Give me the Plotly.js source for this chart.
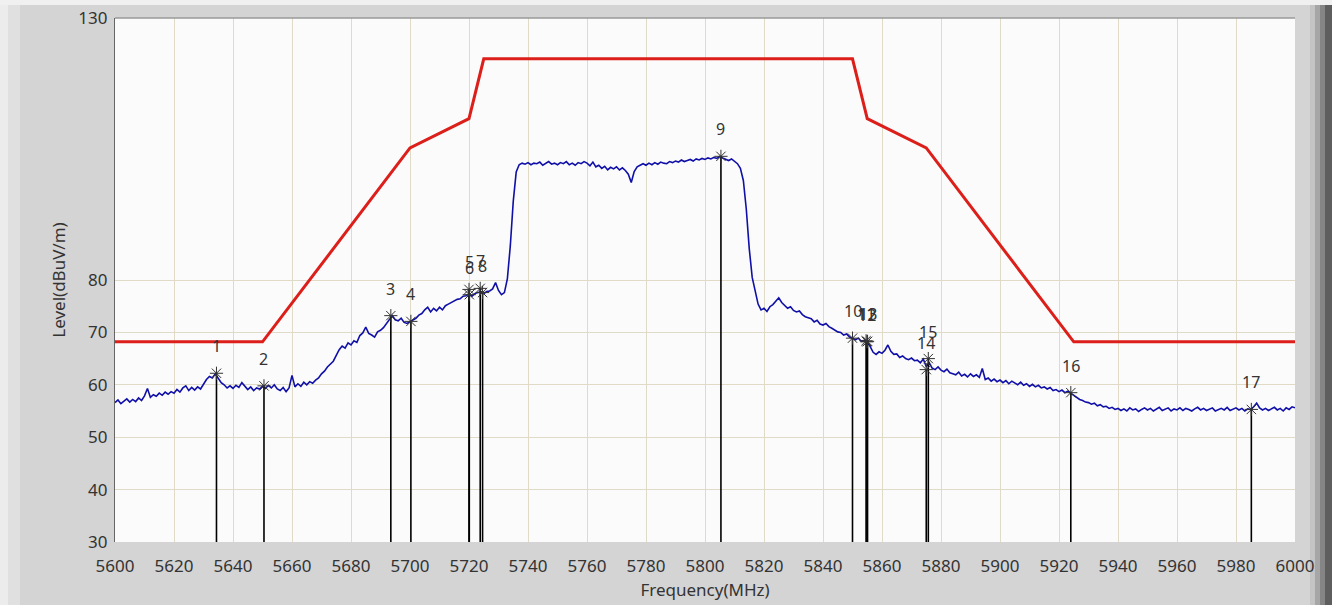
<!DOCTYPE html>
<html>
<head>
<meta charset="utf-8">
<script src="https://cdn.plot.ly/plotly-3.0.1.min.js"></script>
<style>
  html, body { margin: 0; padding: 0; background: #d4d4d4; }
  #chart { width: 1332px; height: 605px; }
</style>
</head>
<body>
<div id="chart"></div>
<script>
// Spectrum: start frequency and 1 MHz step, levels in dBuV/m
const spectrumStart = 5600;
const spectrumStep = 1;
const spectrumLevel = [
  56.6, 57.1, 56.4, 56.9, 57.3, 56.7, 57.2, 56.8, 57.5, 57.0,
  57.9, 59.3, 57.6, 58.1, 57.8, 58.4, 58.0, 58.6, 58.2, 58.7,
  58.4, 59.1, 58.6, 59.4, 59.8, 58.9, 59.5, 59.0, 59.6, 59.2,
  60.1, 61.0, 61.6, 61.3, 62.1, 61.2, 60.4, 60.0, 59.4, 59.8,
  59.3, 59.9, 59.5, 60.4, 59.7, 59.1, 59.6, 58.9, 59.4, 59.2,
  59.7, 59.3, 59.9, 59.4, 60.0, 59.2, 58.9, 59.5, 58.7, 59.4,
  61.8, 59.6, 60.2, 59.7, 60.5, 60.0, 60.6, 60.3, 60.9, 61.3,
  62.1, 62.6, 63.4, 64.0, 64.5, 65.6, 66.7, 67.4, 67.0, 68.0,
  67.6, 68.4, 68.1, 69.4, 69.9, 71.0, 69.8, 69.5, 69.1, 70.1,
  70.4, 70.9, 71.6, 72.5, 73.2, 72.4, 72.2, 72.7, 71.9, 71.7,
  72.0, 72.3, 72.7, 73.3, 73.6, 74.3, 74.8, 73.9, 74.6, 74.1,
  74.8, 74.3, 75.1, 75.4, 75.7, 75.9, 76.3, 76.4, 76.9, 77.0,
  77.3, 76.9, 77.4, 77.6, 77.7, 77.4, 77.8, 77.9, 78.3, 79.5,
  78.0, 77.2, 77.6, 80.2, 86.5, 95.0, 100.6, 102.0, 102.3, 102.1,
  102.4, 102.0, 102.3, 102.2, 102.5, 101.9, 102.3, 102.6, 102.1, 102.3,
  102.0, 102.4, 102.2, 102.6, 102.0, 102.3, 101.9, 102.4, 102.2, 102.6,
  102.3, 101.8, 102.5, 101.6, 101.9, 101.3, 101.7, 101.0, 101.5, 101.2,
  101.6, 101.0, 101.4, 100.9, 100.2, 98.6, 100.7, 101.6, 101.9, 102.2,
  101.9, 102.3, 102.0, 102.4, 102.1, 102.5, 102.3, 102.2, 102.6, 102.4,
  102.7, 102.5, 102.9, 102.6, 102.8, 103.0, 102.7, 103.1, 102.9, 103.2,
  103.0, 103.3, 103.1, 103.4, 103.2, 103.6, 103.3, 103.0, 102.8, 103.1,
  102.7, 102.2, 101.3, 99.0, 93.5, 86.0, 80.5, 77.8, 75.4, 74.3,
  74.6, 74.0, 74.9, 75.3, 76.0, 76.6, 75.7, 75.1, 74.6, 74.9,
  74.2, 73.9, 74.1, 73.4, 73.0, 72.8, 72.6, 72.0, 72.3, 71.6,
  71.4, 71.7, 71.1, 70.8, 70.4, 70.1, 70.0, 69.5, 69.7, 69.1,
  68.9, 68.6, 68.9, 68.3, 68.5, 68.2, 67.3, 66.2, 65.8, 66.3,
  66.0, 66.6, 67.6, 66.4, 65.8, 65.9, 65.2, 65.5, 65.0, 64.8,
  65.1, 64.6, 64.7, 64.2, 64.9, 63.5, 64.2, 63.2, 62.9, 63.4,
  62.8, 62.5, 63.0, 62.3, 62.1, 61.9, 62.4, 61.7, 62.0, 61.5,
  62.1, 61.6, 61.9, 61.4, 63.1, 61.0, 61.3, 60.7, 61.1, 60.6,
  60.9, 60.4, 60.8, 60.2, 60.7, 60.3, 60.0, 60.5, 59.9, 60.2,
  59.7, 60.1, 59.6, 59.9, 59.4, 59.6, 59.2, 59.5, 58.9, 59.1,
  58.7, 59.0, 58.5, 58.8, 58.4, 57.9, 57.6, 57.2, 57.0, 56.7,
  56.6, 56.3, 56.5, 56.0, 56.2, 55.8, 55.9, 55.5, 55.7, 55.3,
  55.5, 55.1, 55.4, 55.0, 55.6, 55.2, 55.4, 54.9, 55.3, 55.6,
  55.2, 55.5, 55.0, 55.4, 55.7, 55.1, 55.3, 55.6, 55.0, 55.4,
  55.2, 55.6, 55.1, 55.5, 55.3, 55.0, 55.4, 55.7, 55.2, 55.5,
  55.1, 55.4, 55.6, 55.0, 55.3, 55.5, 55.2, 55.7, 55.1, 55.4,
  55.6, 55.2, 55.5, 55.0, 55.4, 55.3, 55.8, 56.5, 55.6, 55.2,
  55.5, 55.1, 55.4, 55.7, 55.2, 55.5, 55.0, 55.6, 55.3, 55.8,
  55.6
];

// Limit mask
const limitFreq = [5600, 5650, 5700, 5720, 5725, 5850, 5855, 5875, 5925, 6000];
const limitLevel = [68.2, 68.2, 105.2, 110.8, 122.2, 122.2, 110.8, 105.2, 68.2, 68.2];

// Peak markers
const markerLabels = ["1","2","3","4","5","6","7","8","9","10","11","12","13","14","15","16","17"];
const markerFreq = [5634.4, 5650.5, 5693.5, 5700.3, 5720.0, 5720.1, 5723.8, 5724.6, 5805.4, 5850.0, 5854.6, 5854.9, 5855.1, 5875.0, 5875.7, 5924.0, 5985.2];
const markerLevel = [62.2, 59.8, 73.2, 72.1, 78.2, 77.2, 78.4, 77.6, 103.6, 68.9, 68.4, 68.2, 68.3, 62.9, 65.0, 58.5, 55.3];

// Axis ticks
const xTickVals = [5600,5620,5640,5660,5680,5700,5720,5740,5760,5780,5800,5820,5840,5860,5880,5900,5920,5940,5960,5980,6000];
const yTickVals = [30, 40, 50, 60, 70, 80, 130];
const yFloor = 30;

const specX = spectrumLevel.map((_, i) => spectrumStart + i * spectrumStep);

const stemX = [], stemY = [];
markerFreq.forEach((f, i) => { stemX.push(f, f, null); stemY.push(markerLevel[i], yFloor, null); });

const traces = [
  { x: specX, y: spectrumLevel, type: 'scatter', mode: 'lines',
    line: { color: '#1010a8', width: 1.6 }, hoverinfo: 'skip' },
  { x: stemX, y: stemY, type: 'scatter', mode: 'lines',
    line: { color: '#000000', width: 1.6 }, hoverinfo: 'skip' },
  { x: markerFreq, y: markerLevel, type: 'scatter', mode: 'markers',
    marker: { symbol: 'asterisk-open', size: 11, color: '#333', line: { width: 1, color: '#333' } }, hoverinfo: 'skip' },
  { x: limitFreq, y: limitLevel, type: 'scatter', mode: 'lines',
    line: { color: '#dc1f1a', width: 3 }, hoverinfo: 'skip' }
];

const annotations = markerLabels.map((t, i) => ({
  x: markerFreq[i], y: markerLevel[i], xref: 'x', yref: 'y', text: t,
  showarrow: false, yshift: 27, font: { family: 'Noto Sans, sans-serif', size: 16, color: '#333' }
}));

const px = v => (v - 115) / 1180;
const py = v => (542 - v) / 524;
const shapes = [
  { type: 'rect', xref: 'paper', yref: 'paper', x0: px(0), x1: px(1332), y0: py(5), y1: py(0), fillcolor: '#f0f0f0', line: { width: 0 }, layer: 'below' },
  { type: 'rect', xref: 'paper', yref: 'paper', x0: px(0), x1: px(8), y0: py(605), y1: py(5), fillcolor: '#ececec', line: { width: 0 }, layer: 'below' },
  { type: 'rect', xref: 'paper', yref: 'paper', x0: px(8), x1: px(20), y0: py(605), y1: py(5), fillcolor: '#e0e0e0', line: { width: 0 }, layer: 'below' },
  { type: 'rect', xref: 'paper', yref: 'paper', x0: px(1310), x1: px(1315), y0: py(605), y1: py(5), fillcolor: '#c4c4c4', line: { width: 0 }, layer: 'below' },
  { type: 'rect', xref: 'paper', yref: 'paper', x0: px(1315), x1: px(1320), y0: py(605), y1: py(5), fillcolor: '#a6a6a6', line: { width: 0 }, layer: 'below' },
  { type: 'rect', xref: 'paper', yref: 'paper', x0: px(1320), x1: px(1325), y0: py(605), y1: py(5), fillcolor: '#858585', line: { width: 0 }, layer: 'below' },
  { type: 'rect', xref: 'paper', yref: 'paper', x0: px(1325), x1: px(1332), y0: py(605), y1: py(5), fillcolor: '#5e5e5e', line: { width: 0 }, layer: 'below' },
  { type: 'line', xref: 'paper', yref: 'paper', x0: 0, x1: 1, y0: 1, y1: 1, line: { color: '#9a9a9a', width: 1.5 } }
];

const tickFont = { family: 'Noto Sans, sans-serif', size: 17, color: '#333' };

const layout = {
  width: 1332, height: 605,
  margin: { l: 115, r: 37, t: 18, b: 63 },
  paper_bgcolor: '#d4d4d4',
  plot_bgcolor: '#fbfbfb',
  showlegend: false,
  xaxis: {
    range: [5600, 6000], tickvals: xTickVals, ticktext: xTickVals.map(String),
    showgrid: true, gridcolor: '#e0dbc6', gridwidth: 1, zeroline: false,
    showline: false, ticks: '', tickfont: tickFont, ticklabelstandoff: 12,
    title: { text: 'Frequency(MHz)', font: { family: 'Noto Sans, sans-serif', size: 17, color: '#333' }, standoff: 8 }
  },
  yaxis: {
    range: [30, 130], tickvals: yTickVals, ticktext: yTickVals.map(String),
    showgrid: true, gridcolor: '#e0dbc6', gridwidth: 1, zeroline: false,
    showline: true, linecolor: '#666', linewidth: 1.2, ticks: '', tickfont: tickFont, ticklabelstandoff: 3,
    title: { text: 'Level(dBuV/m)', font: { family: 'Noto Sans, sans-serif', size: 17, color: '#333' }, standoff: 8 }
  },
  annotations: annotations,
  shapes: shapes
};

Plotly.newPlot('chart', traces, layout, { staticPlot: true, displayModeBar: false });
</script>
</body>
</html>
